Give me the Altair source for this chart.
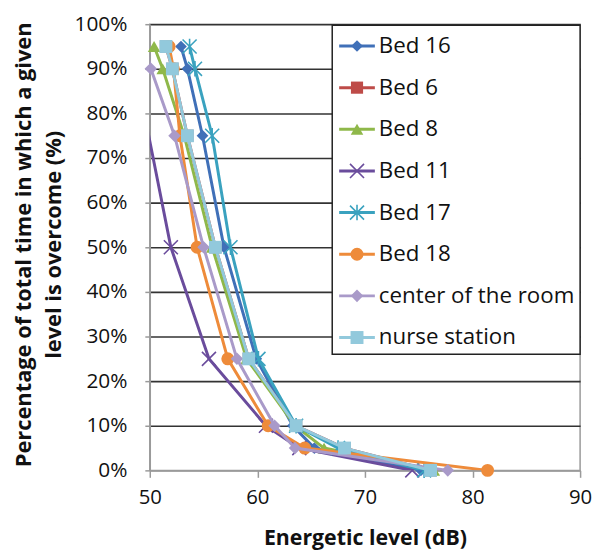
import altair as alt
import pandas as pd

# ---- data ----
levels = [95, 90, 75, 50, 25, 10, 5, 0]  # % of time the level is overcome
series_names = ["Bed 16", "Bed 6", "Bed 8", "Bed 11", "Bed 17", "Bed 18",
                "center of the room", "nurse station"]
bed16 = [52.9, 53.5, 54.9, 56.9, 59.9, 63.3, 65.3, 75.2]
bed6 = [51.5, 52.1, 53.5, 56.1, 59.2, 63.6, 68.1, 76.1]
bed8 = [50.4, 51.2, 53.2, 55.8, 59.0, 63.5, 66.2, 76.4]
bed11 = [48.3, 48.8, 49.9, 51.96, 55.5, 60.8, 63.9, 74.4]
bed17 = [53.7, 54.2, 55.8, 57.5, 60.1, 63.6, 67.5, 75.5]
bed18 = [51.8, 52.2, 52.8, 54.4, 57.25, 61.0, 64.4, 81.4]
center_room = [49.6, 50.1, 52.3, 55.0, 58.1, 61.6, 63.5, 77.7]
nurse_station = [51.5, 52.1, 53.5, 56.1, 59.2, 63.6, 68.1, 76.1]
x_ticks = [50, 60, 70, 80, 90]
y_ticks = [0, 10, 20, 30, 40, 50, 60, 70, 80, 90, 100]

series_values = [bed16, bed6, bed8, bed11, bed17, bed18, center_room, nurse_station]
colors = ["#4070B8", "#BE4B48", "#8FB84A", "#6A4C9C", "#3AA2BF", "#EE8B3A",
          "#A99AC9", "#92C9DC"]
X_PATH = "M-1,-1L1,1M-1,1L1,-1"
AST_PATH = "M-1,-1L1,1M-1,1L1,-1M0,-1.1L0,1.1"
marker_specs = [
    dict(shape="diamond", filled=True, size=140),
    dict(shape="square", filled=True, size=150),
    dict(shape="triangle-up", filled=True, size=160),
    dict(shape=X_PATH, filled=False, size=200, strokeWidth=1.6),
    dict(shape=AST_PATH, filled=False, size=200, strokeWidth=1.6),
    dict(shape="circle", filled=True, size=170),
    dict(shape="diamond", filled=True, size=160),
    dict(shape="square", filled=True, size=170),
]

rows = []
for name, vals in zip(series_names, series_values):
    for lv, v in zip(levels, vals):
        rows.append({"series": name, "x": v, "y": lv})
df = pd.DataFrame(rows)
leg_df = pd.DataFrame({"series": series_names, "row": list(range(len(series_names)))})

FONT = "Open Sans"

x_enc = alt.X("x:Q", scale=alt.Scale(domain=[50, 90], nice=False, zero=False),
              axis=alt.Axis(values=x_ticks, title="Energetic level (dB)", grid=False,
                            tickSize=7, labelPadding=10, labelFlush=False,
                            labelFontSize=20.5, titleFontSize=21.5,
                            titleY=69, titleBaseline="middle"))
y_enc = alt.Y("y:Q", scale=alt.Scale(domain=[0, 100], nice=False),
              axis=alt.Axis(values=y_ticks, labelExpr="datum.value + '%'",
                            title=["Percentage of total time in which a given",
                                   "level is overcome (%)"],
                            grid=True, tickSize=5, labelPadding=18,
                            labelFontSize=21, titleFontSize=22,
                            gridColor=alt.condition("datum.value == 0",
                                                    alt.value("#9a9a9a"),
                                                    alt.value("#333333")),
                            gridWidth=1.6,
                            titleAngle=-90, titleX=-127, titleY=222,
                            titleAlign="center", titleBaseline="middle",
                            titleLineHeight=30))

base = alt.Chart(df)
data_layers = []
for i, name in enumerate(series_names):
    flt = alt.datum.series == name
    line = base.transform_filter(flt).mark_line(
        color=colors[i], strokeWidth=3, clip=True).encode(x=x_enc, y=y_enc)
    spec = marker_specs[i]
    mk = dict(color=colors[i], shape=spec["shape"], size=spec["size"],
              filled=spec["filled"], opacity=1)
    if not spec["filled"]:
        mk["strokeWidth"] = spec["strokeWidth"]
    pts = base.transform_filter(flt).transform_filter(alt.datum.x >= 50).mark_point(
        **mk).encode(x=x_enc, y=y_enc)
    data_layers += [line, pts]
data_chart = alt.layer(*data_layers)

# ---- legend (built as marks, like the Excel legend box) ----
leg_y = alt.Y("row:Q", scale=alt.Scale(domain=[0, 7], range=[22, 316]), axis=None)
leg_base = alt.Chart(leg_df)
box = leg_base.transform_filter(alt.datum.row == 0).mark_rect(
    fill="white", stroke="#222", strokeWidth=1.5).encode(
    x=alt.value(184), x2=alt.value(434), y=alt.value(1), y2=alt.value(333))
leg_layers = [box]
for i, name in enumerate(series_names):
    flt = alt.datum.series == name
    rule = leg_base.transform_filter(flt).mark_rule(
        color=colors[i], strokeWidth=3).encode(
        x=alt.value(191), x2=alt.value(227), y=leg_y)
    spec = marker_specs[i]
    mk = dict(color=colors[i], shape=spec["shape"], size=spec["size"],
              filled=spec["filled"], opacity=1)
    if not spec["filled"]:
        mk["strokeWidth"] = spec["strokeWidth"]
    pt = leg_base.transform_filter(flt).mark_point(**mk).encode(
        x=alt.value(209), y=leg_y)
    leg_layers += [rule, pt]
txt = leg_base.mark_text(align="left", baseline="middle", font=FONT,
                         fontSize=22.5, color="#111").encode(
    x=alt.value(231), y=leg_y, text="series:N")
leg_layers.append(txt)
legend_chart = alt.layer(*leg_layers)

chart = alt.layer(data_chart, legend_chart).resolve_scale(y="independent").properties(
    width=434, height=450,
    autosize=alt.AutoSizeParams(type="none"),
    padding={"left": 143, "top": 14, "right": 12, "bottom": 81},
).configure_view(stroke="#9a9a9a", strokeWidth=1.5).configure_axis(
    domainColor="#9a9a9a", domainWidth=1.5, tickColor="#9a9a9a", tickWidth=1.5,
    labelFont=FONT, labelColor="#111",
    titleFont=FONT, titleFontWeight="bold", titleColor="#111",
)

chart.save("out.html", embed_options={"renderer": "svg", "actions": False})
